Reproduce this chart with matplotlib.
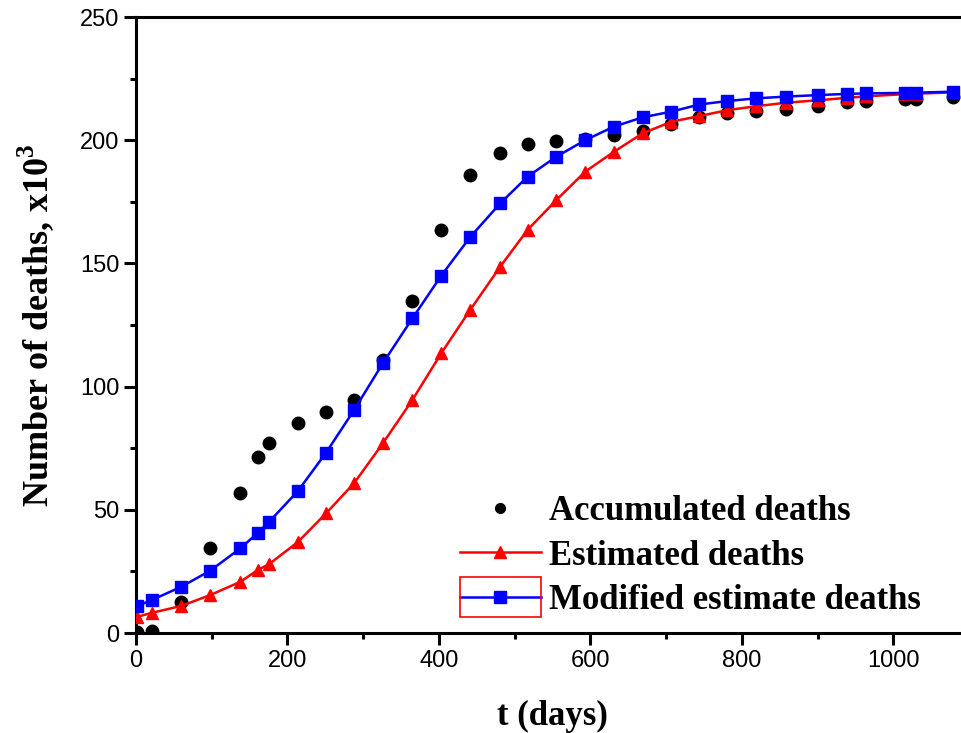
import matplotlib
matplotlib.use("Agg")
import matplotlib.pyplot as plt
from matplotlib.patches import Rectangle
from matplotlib.ticker import MultipleLocator

# days shared by the three series
days = [2, 21, 60, 98, 138, 161, 176, 214, 251, 288, 326, 365, 403, 441, 481,
        517, 555, 593, 631, 669, 707, 744, 781, 819, 858, 900, 939, 964, 1015,
        1030, 1079]

accumulated = [0.3, 0.9, 12.7, 34.6, 56.8, 71.6, 77.2, 85.3, 89.6, 94.6, 111.0,
               134.9, 163.6, 185.9, 194.7, 198.3, 199.6, 200.5, 202.1, 203.7,
               206.5, 209.5, 211.2, 212.0, 212.8, 214.0, 215.5, 215.9, 216.7,
               216.7, 217.4]

estimated = [6.6, 8.2, 11.0, 15.4, 20.8, 25.6, 28.0, 37.0, 48.6, 60.8, 77.0,
             94.6, 113.5, 131.0, 148.7, 163.6, 175.7, 187.2, 195.3, 202.8,
             207.5, 209.8, 212.2, 213.8, 215.2, 216.2, 217.2, 217.8, 218.7,
             218.9, 219.4]

modified = [11.0, 13.4, 18.8, 25.3, 34.4, 40.7, 45.2, 57.7, 73.2, 90.5, 109.5,
            127.7, 145.0, 160.6, 174.4, 185.2, 193.3, 200.0, 205.5, 209.3,
            211.6, 214.5, 215.9, 217.0, 217.7, 218.3, 218.8, 219.0, 219.2,
            219.3, 219.7]

plt.rcParams['mathtext.fontset'] = 'custom'
plt.rcParams['mathtext.rm'] = 'Liberation Serif'
plt.rcParams['mathtext.bf'] = 'Liberation Serif:bold'

fig = plt.figure(figsize=(9.61, 7.33), dpi=100)
ax = fig.add_axes([0.1415, 0.1364, 0.8669, 0.8404])

ax.plot(days, accumulated, 'o', color='black', ms=9, label='Accumulated deaths', zorder=3)
ax.plot(days, estimated, '-^', color='red', lw=1.8, ms=9, label='Estimated deaths', zorder=4)
ax.plot(days, modified, '-s', color='blue', lw=1.8, ms=9, label='Modified estimate deaths', zorder=5)

ax.set_xlim(0, 1100)
ax.set_ylim(0, 250)
ax.xaxis.set_major_locator(MultipleLocator(200))
ax.xaxis.set_minor_locator(MultipleLocator(100))
ax.yaxis.set_major_locator(MultipleLocator(50))
ax.yaxis.set_minor_locator(MultipleLocator(25))

for s in ax.spines.values():
    s.set_linewidth(2.2)
ax.spines['right'].set_visible(False)
ax.tick_params(which='major', direction='out', length=8.5, width=2.2,
               labelsize=17, top=False, right=False)
ax.tick_params(which='minor', direction='out', length=4.5, width=2.2,
               top=False, right=False)
for lab in ax.get_xticklabels() + ax.get_yticklabels():
    lab.set_fontfamily('Liberation Sans')

ax.set_xlabel('t (days)', fontfamily='Liberation Serif', fontweight='bold', fontsize=25)
ax.set_ylabel(r'Number of deaths, x10$^{\mathbf{3}}$', fontfamily='Liberation Serif',
              fontweight='bold', fontsize=26)
ax.xaxis.set_label_coords(0.5, -0.108)
ax.yaxis.set_label_coords(-0.096, 0.5)

leg = ax.legend(loc='upper left', bbox_to_anchor=(0.4787, 0.325), bbox_transform=fig.transFigure,
                frameon=False, handlelength=2.33, handletextpad=0.23, labelspacing=0.34,
                borderaxespad=0, borderpad=0,
                prop={'family': 'Liberation Serif', 'weight': 'bold', 'size': 25})
leg.legend_handles[0].set_markersize(7)

# red box around the last legend handle, as in the original
fig.patches.append(Rectangle((0.4787, 0.1583), 0.0843, 0.0546, transform=fig.transFigure,
                             fill=False, edgecolor='red', lw=1.2))

fig.savefig('out.png', dpi=100)
